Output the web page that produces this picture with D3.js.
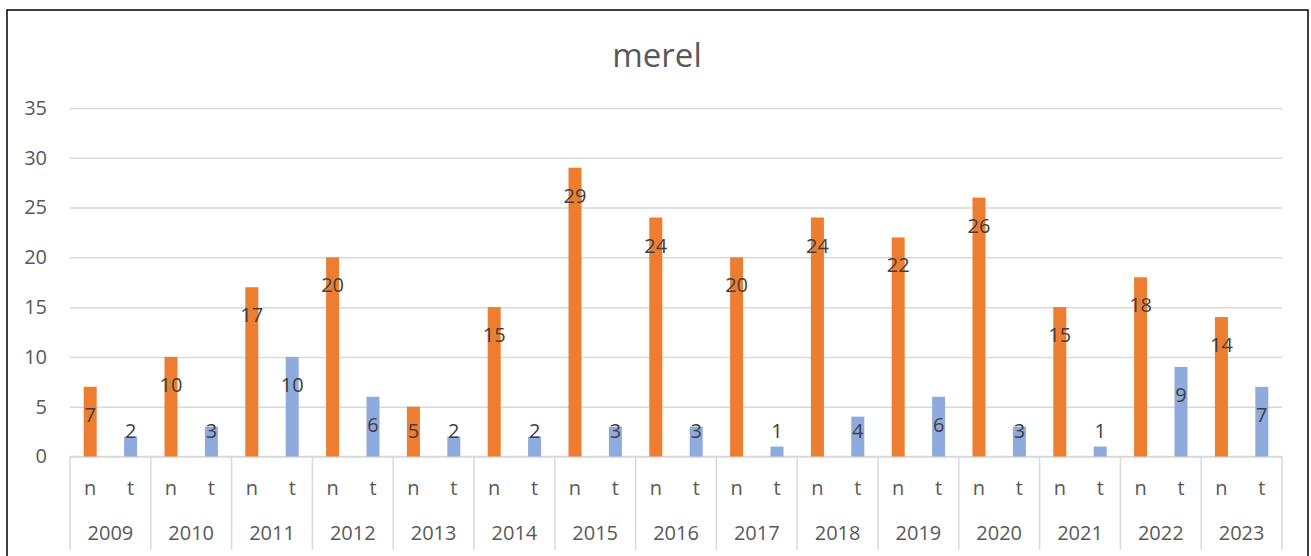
<!DOCTYPE html>
<html>
<head>
<meta charset="utf-8">
<script src="https://cdn.jsdelivr.net/npm/d3@7"></script>
<style>
  body { margin: 0; background: #fff; }
  text { font-family: "Open Sans", "Liberation Sans", sans-serif; }
</style>
</head>
<body>
<div id="chart"></div>
<script>
// Chart data
var years = ["2009", "2010", "2011", "2012", "2013", "2014", "2015", "2016",
  "2017", "2018", "2019", "2020", "2021", "2022", "2023"];
var subCats = ["n", "t"];
var nValues = [7, 10, 17, 20, 5, 15, 29, 24, 20, 24, 22, 26, 15, 18, 14];
var tValues = [2, 3, 10, 6, 2, 2, 3, 3, 1, 4, 6, 3, 1, 9, 7];
var yTicks = [0, 5, 10, 15, 20, 25, 30, 35];
var title = "merel";

var colors = { n: "#ED7D31", t: "#8FAADC" };

// Chart params
var svgWidth = 1311;
var svgHeight = 556;
var margin = { top: 108, right: 29, bottom: 99.5, left: 70 };
var width = svgWidth - margin.left - margin.right;
var height = svgHeight - margin.top - margin.bottom;

var svg = d3.select("#chart")
  .append("svg")
  .attr("width", svgWidth)
  .attr("height", svgHeight);

// outer frame (runs past the bottom edge)
svg.append("rect")
  .attr("x", 7)
  .attr("y", 10)
  .attr("width", 1301)
  .attr("height", 620)
  .attr("fill", "none")
  .attr("stroke", "#000")
  .attr("stroke-width", 1.5);

svg.append("text")
  .attr("x", 657)
  .attr("y", 67)
  .attr("text-anchor", "middle")
  .style("font-size", "33px")
  .style("fill", "#595959")
  .text(title);

var chartGroup = svg.append("g")
  .attr("transform", `translate(${margin.left}, ${margin.top})`);

// scales
var xYear = d3.scaleBand().domain(years).range([0, width]).padding(0);
var xSub = d3.scaleBand().domain(subCats).range([0, xYear.bandwidth()]).padding(0);
var yLinearScale = d3.scaleLinear().domain([0, 35]).range([height, 0]);

// gridlines + y labels
var leftAxis = d3.axisLeft(yLinearScale)
  .tickValues(yTicks)
  .tickSize(-width)
  .tickPadding(23);

var yAxis = chartGroup.append("g").call(leftAxis);
yAxis.select(".domain").remove();
yAxis.selectAll(".tick line")
  .attr("stroke", "#D9D9D9")
  .attr("stroke-width", 1.5);
yAxis.selectAll(".tick text")
  .style("font-size", "20px")
  .style("fill", "#595959");

// category axis frame
var axisBottomY = svgHeight - margin.top - 6;
chartGroup.append("line")
  .attr("x1", 0).attr("x2", width)
  .attr("y1", height).attr("y2", height)
  .attr("stroke", "#D9D9D9")
  .attr("stroke-width", 1.5);

var bounds = years.map(d => xYear(d)).concat([width]);
chartGroup.selectAll(".cat-line").data(bounds)
  .enter()
  .append("line")
  .attr("class", "cat-line")
  .attr("x1", d => d).attr("x2", d => d)
  .attr("y1", height).attr("y2", axisBottomY)
  .attr("stroke", "#D9D9D9")
  .attr("stroke-width", 1.5);

// flatten data
var barData = [];
years.forEach(function(y, i) {
  barData.push({ year: y, sub: "n", value: nValues[i] });
  barData.push({ year: y, sub: "t", value: tValues[i] });
});

var barWidth = 13;

chartGroup.selectAll(".bar").data(barData)
  .enter()
  .append("rect")
  .attr("class", "bar")
  .attr("x", d => xYear(d.year) + xSub(d.sub) + (xSub.bandwidth() - barWidth) / 2)
  .attr("y", d => yLinearScale(d.value))
  .attr("width", barWidth)
  .attr("height", d => height - yLinearScale(d.value))
  .attr("fill", d => colors[d.sub]);

// data labels (inside end, pushed up for short bars)
chartGroup.selectAll(".value-label").data(barData)
  .enter()
  .append("text")
  .attr("class", "value-label")
  .attr("x", d => xYear(d.year) + xSub(d.sub) + xSub.bandwidth() / 2)
  .attr("y", d => Math.min(yLinearScale(d.value) + 35, height - 18.5))
  .attr("text-anchor", "middle")
  .style("font-size", "20px")
  .style("fill", "#404040")
  .text(d => d.value);

// sub-category labels
chartGroup.selectAll(".sub-label").data(barData)
  .enter()
  .append("text")
  .attr("class", "sub-label")
  .attr("x", d => xYear(d.year) + xSub(d.sub) + xSub.bandwidth() / 2)
  .attr("y", height + 31.5)
  .attr("dy", "0.35em")
  .attr("text-anchor", "middle")
  .style("font-size", "20px")
  .style("fill", "#595959")
  .text(d => d.sub);

// year labels
chartGroup.selectAll(".year-label").data(years)
  .enter()
  .append("text")
  .attr("class", "year-label")
  .attr("x", d => xYear(d) + xYear.bandwidth() / 2)
  .attr("y", height + 76.5)
  .attr("dy", "0.35em")
  .attr("text-anchor", "middle")
  .style("font-size", "20px")
  .style("fill", "#595959")
  .text(d => d);
</script>
</body>
</html>
